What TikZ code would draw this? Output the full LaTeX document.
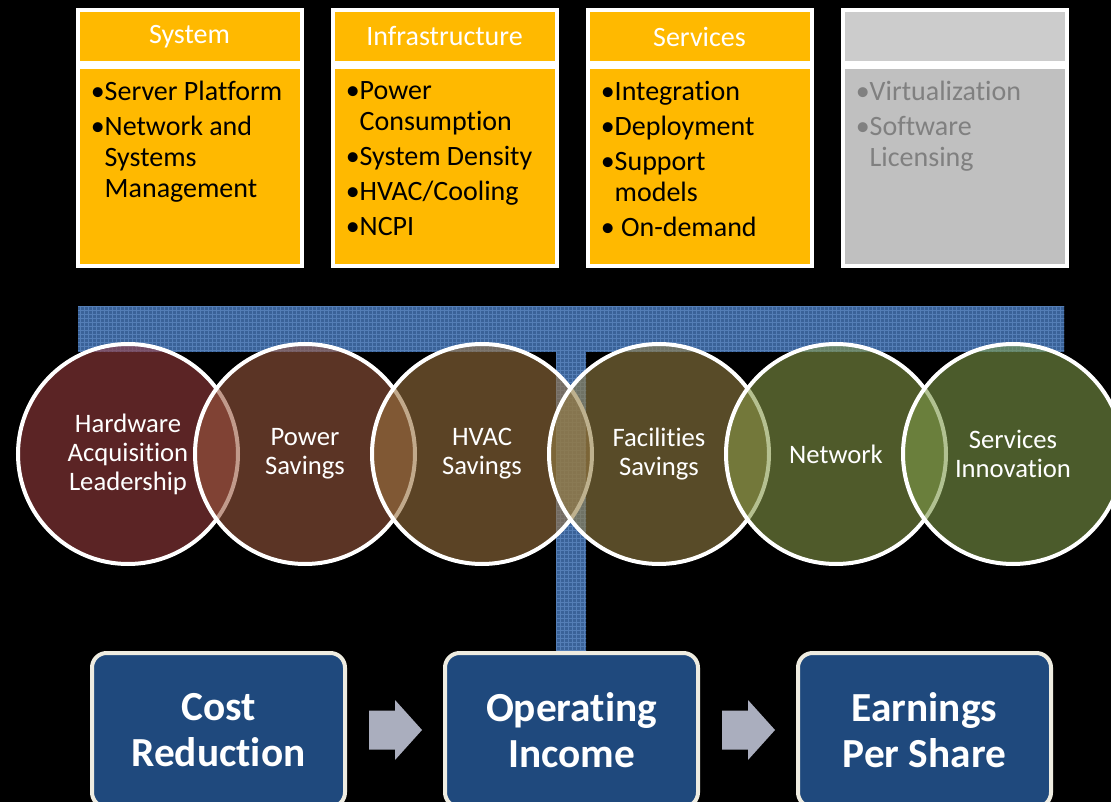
\documentclass[tikz,border=0pt]{standalone}
\usepackage{fontspec}
\setmainfont{Carlito}[Ligatures=NoCommon]
\usetikzlibrary{positioning,calc,patterns}

\definecolor{hdrorange}{RGB}{255,185,0}
\definecolor{greyhead}{RGB}{204,204,204}
\definecolor{greybody}{RGB}{192,192,192}
\definecolor{greytext}{RGB}{128,128,128}
\definecolor{barblue}{RGB}{58,98,152}
\definecolor{barlight}{RGB}{84,126,182}
\definecolor{boxblue}{RGB}{31,73,125}
\definecolor{boxrim}{RGB}{238,236,225}
\definecolor{arrowgrey}{RGB}{170,174,190}
\definecolor{circA}{RGB}{153,60,63}
\definecolor{circB}{RGB}{153,87,63}
\definecolor{circC}{RGB}{153,113,63}
\definecolor{circD}{RGB}{147,125,67}
\definecolor{circE}{RGB}{133,150,70}
\definecolor{circF}{RGB}{125,153,73}

\begin{document}
\begin{tikzpicture}[x=0.75pt,y=-0.75pt,
  hdrbox/.style={draw=white, line width=3pt, fill=hdrorange, minimum width=168pt,
    minimum height=40pt, inner sep=0pt, text=white, font=\fontsize{21}{24}\selectfont},
  itembox/.style={draw=white, line width=3pt, fill=hdrorange, minimum width=168pt,
    minimum height=149pt, inner sep=0pt},
  items/.style={anchor=north west, align=left, inner sep=0pt,
    font=\fontsize{21}{23.25}\selectfont},
  circ/.style={circle, draw=white, line width=3pt, minimum size=165pt, fill opacity=0.6,
    text opacity=1, text=white, align=center, font=\fontsize{20}{21.75}\selectfont},
  outbox/.style={rectangle, rounded corners=11pt, draw=boxrim, line width=3pt, fill=boxblue,
    minimum width=189.75pt, minimum height=115.5pt, text=white, align=center,
    font=\bfseries\fontsize{31}{34.5}\selectfont}]
  \useasboundingbox (0,0) rectangle (1111,802);
  \fill[black] (0,0) rectangle (1111,802); % background
  \clip (0,0) rectangle (1111,802);

  % top row of boxes
  \node[hdrbox] (sysHead) at (189.5,36.5) {System};
  \node[hdrbox, right=20.25pt of sysHead] (infraHead) {Infrastructure};
  \node[hdrbox, right=20.25pt of infraHead] (servHead) {Services};
  \node[hdrbox, fill=greyhead, right=20.25pt of servHead] (softHead) {};

  \node[itembox, below=0pt of sysHead] (sysBody) {};
  \node[itembox, below=0pt of infraHead] (infraBody) {};
  \node[itembox, below=0pt of servHead] (servBody) {};
  \node[itembox, fill=greybody, below=0pt of softHead] (softBody) {};

  \node[items] (sysItems) at ($(sysBody.north west)+(15,16)$)
    {•Server Platform\\[3pt]•Network and\\\phantom{•}Systems\\\phantom{•}Management};
  \node[items] (infraItems) at ($(infraBody.north west)+(15,16)$)
    {•Power\\\phantom{•}Consumption\\[3pt]•System Density\\[3pt]•HVAC/Cooling\\[3pt]•NCPI};
  \node[items] (servItems) at ($(servBody.north west)+(15,16)$)
    {•Integration\\[3pt]•Deployment\\[3pt]•Support\\\phantom{•}models\\[3pt]• On-demand};
  \node[items, text=greytext] (softItems) at ($(softBody.north west)+(15,16)$)
    {•Virtualization\\[3pt]•Software\\\phantom{•}Licensing};

  % blue connector bar behind the circles
  \fill[barblue] (78,307) rectangle (1064,352);
  \fill[pattern=grid, pattern color=barlight] (78,307) rectangle (1064,352);
  \fill[barblue] (556,340) rectangle (586,660);
  \fill[pattern=grid, pattern color=barlight] (556,340) rectangle (586,660);

  % savings circles
  \node[circ, fill=circA] (hardware) at (128,454) {Hardware\\Acquisition\\Leadership};
  \node[circ, fill=circB] (power) at (305,454) {Power\\Savings};
  \node[circ, fill=circC] (hvac) at (482,454) {HVAC\\Savings};
  \node[circ, fill=circD] (facilities) at (659,454) {Facilities\\Savings};
  \node[circ, fill=circE] (network) at (836,454) {Network};
  \node[circ, fill=circF] (innovation) at (1013,454) {Services\\Innovation};

  % bottom row
  \node[outbox] (cost) at (218.5,730) {Cost\\Reduction};
  \node[outbox, right=72pt of cost] (income) {Operating\\Income};
  \node[outbox, right=72pt of income] (earnings) {Earnings\\Per Share};

  \coordinate (arrA) at ($(cost.east)!0.5!(income.west)$);
  \coordinate (arrB) at ($(income.east)!0.5!(earnings.west)$);
  \fill[arrowgrey] (arrA) ++(-26,-19.5) -- ++(26,0) -- ++(0,-10.5) -- ++(27,30)
    -- ++(-27,30) -- ++(0,-10.5) -- ++(-26,0) -- cycle;
  \fill[arrowgrey] (arrB) ++(-26,-19.5) -- ++(26,0) -- ++(0,-10.5) -- ++(27,30)
    -- ++(-27,30) -- ++(0,-10.5) -- ++(-26,0) -- cycle;
\end{tikzpicture}
\end{document}
